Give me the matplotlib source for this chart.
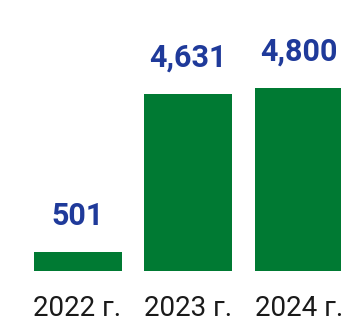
import matplotlib.pyplot as plt

years = ['2022 г.', '2023 г.', '2024 г.']
values = [501, 4631, 4800]
value_labels = ['501', '4,631', '4,800']

GREEN = '#007A33'
BLUE = '#1F3A9A'

plt.rcParams['font.family'] = ['Roboto', 'DejaVu Sans']

fig = plt.figure(figsize=(3.41, 3.19), dpi=100)
ax = fig.add_axes([0, 48 / 319, 1, 271 / 319])

x = range(len(values))
ax.bar(x, values, width=0.795, color=GREEN)

for i, (v, lab) in enumerate(zip(values, value_labels)):
    ax.annotate(lab, (i, v), xytext=(0, 19.5), textcoords='offset points',
                ha='center', va='baseline', fontsize=22, fontweight='bold',
                color=BLUE)

ax.set_xlim(-0.70, 2.378)
ax.set_ylim(0, 7094)
ax.set_xticks(list(x))
ax.set_xticklabels(years, fontsize=20, color='#1a1a1a')
ax.tick_params(axis='x', length=0, pad=17)
ax.set_yticks([])
for s in ax.spines.values():
    s.set_visible(False)

fig.savefig('out.png', dpi=100)
